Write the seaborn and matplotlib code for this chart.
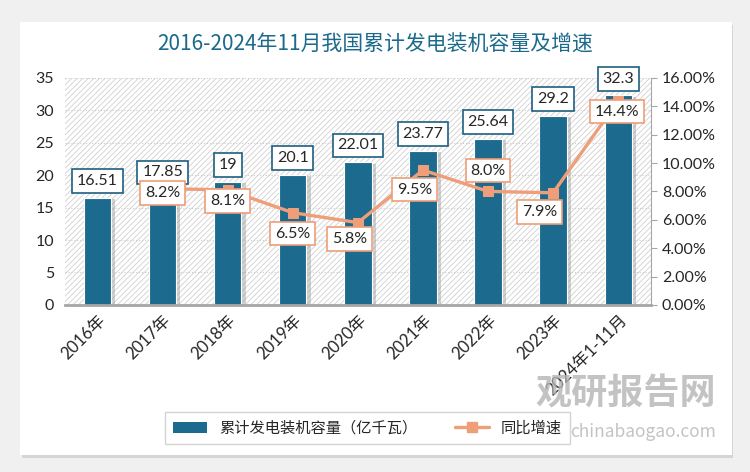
import pandas as pd
import numpy as np
import matplotlib
matplotlib.use('Agg')
import matplotlib.pyplot as plt
import matplotlib.patheffects as pe
from matplotlib.patches import Rectangle, Patch
from matplotlib.lines import Line2D
import seaborn as sns

# data
years = ['2016年', '2017年', '2018年', '2019年', '2020年', '2021年', '2022年', '2023年', '2024年1-11月']
capacity = [16.51, 17.85, 19, 20.1, 22.01, 23.77, 25.64, 29.2, 32.3]
growth_years = ['2017年', '2018年', '2019年', '2020年', '2021年', '2022年', '2023年', '2024年1-11月']
growth = [8.2, 8.1, 6.5, 5.8, 9.5, 8.0, 7.9, 14.4]

# label offsets (points) for the growth boxes
growth_offsets = [(0, -3), (0, -8), (0, -15), (-6, -12), (-6, -14), (0, 15), (-10, -14), (-1, -8)]

bar_color = '#1C6B8E'
line_color = '#EE9E79'
cjk = ['Noto Sans CJK SC', 'DejaVu Sans']
sans = ['Lato', 'Noto Sans CJK SC', 'DejaVu Sans']

sns.set_style('white')
plt.rcParams['font.family'] = cjk
plt.rcParams['hatch.linewidth'] = 0.6

fig = plt.figure(figsize=(7.5, 4.72), dpi=100)
fig.patch.set_facecolor('#F0F0F0')

# white card with soft shadow
card = Rectangle((0.027, 0.036), 0.949, 0.917, transform=fig.transFigure,
                 facecolor='white', edgecolor='none', zorder=-10,
                 path_effects=[pe.SimplePatchShadow(offset=(1, -2), shadow_rgbFace='#BBBBBB', alpha=0.5), pe.Normal()])
fig.add_artist(card)

ax = fig.add_axes([0.0867, 0.354, 0.781, 0.481])
ax.set_facecolor('none')

# hatched plot background
bg = Rectangle((0, 0), 1, 1, transform=ax.transAxes, facecolor='white',
               edgecolor='#D0D0D0', hatch='//////', linewidth=0, zorder=0)
ax.add_patch(bg)

df = pd.DataFrame({'year': years, 'capacity': capacity})
sns.barplot(data=df, x='year', y='capacity', color=bar_color, width=0.42,
            saturation=1, ax=ax, zorder=2, edgecolor='white', linewidth=0.8)
for p in ax.patches:
    if p is bg:
        continue
    p.set_path_effects([pe.SimplePatchShadow(offset=(3, -1), shadow_rgbFace='#999999', alpha=0.45), pe.Normal()])

ax.set_xlim(-0.5, len(years) - 0.5)
ax.set_ylim(0, 35)
ax.set_yticks(range(0, 36, 5))
ax.set_xlabel('')
ax.set_ylabel('')
ax.yaxis.grid(True, linestyle=':', color='#CCCCCC', linewidth=0.8)
ax.set_axisbelow(True)
for s in ['left', 'top', 'right']:
    ax.spines[s].set_visible(False)
ax.spines['bottom'].set_color('#A6A6A6')
ax.spines['bottom'].set_linewidth(2)
ax.tick_params(axis='y', length=0, labelsize=11.5, pad=8)
ax.tick_params(axis='x', length=0, pad=5)
ax.set_xticks(range(len(years)))
ax.set_xticklabels(years, rotation=45, ha='right', rotation_mode='anchor', fontsize=12,
                   family=sans)
for t in ax.get_yticklabels():
    t.set_family(sans)

for i, v in enumerate(capacity):
    ax.annotate(f'{v:g}', (i, v), xytext=(0, 12), textcoords='offset points',
                ha='center', va='center', fontsize=11.5, family=sans, zorder=5,
                bbox=dict(boxstyle='square,pad=0.3', facecolor='white', edgecolor='#1F5F80', linewidth=1.2))

# growth rate on the right axis
ax2 = ax.twinx()
ax2.set_ylim(0, 16)
ax2.set_yticks(range(0, 17, 2))
ax2.set_yticklabels([f'{v:.2f}%' for v in range(0, 17, 2)], fontsize=11.5, family=sans)
gdf = pd.DataFrame({'pos': [years.index(y) for y in growth_years], 'growth': growth})
sns.lineplot(data=gdf, x='pos', y='growth', ax=ax2, color=line_color, linewidth=2.4,
             marker='s', markersize=7, markeredgecolor=line_color, zorder=3)
ax2.set_xlim(-0.5, len(years) - 0.5)
ax2.set_xlabel('')
ax2.set_ylabel('')
for s in ['left', 'top', 'bottom']:
    ax2.spines[s].set_visible(False)
ax2.spines['right'].set_color('#A6A6A6')
ax2.tick_params(axis='y', direction='out', length=4, color='#A6A6A6', pad=4)

for (x, v), off in zip(zip(gdf['pos'], growth), growth_offsets):
    ax2.annotate(f'{v:.1f}%', (x, v), xytext=off, textcoords='offset points',
                 ha='center', va='center', fontsize=11.5, family=sans, zorder=6,
                 bbox=dict(boxstyle='square,pad=0.3', facecolor='white', edgecolor=line_color, linewidth=1.2))

fig.text(0.5, 0.905, '2016-2024年11月我国累计发电装机容量及增速', ha='center', va='center',
         fontsize=15, color='#1B6A8C', family=cjk)

# watermark
fig.text(0.955, 0.165, '观研报告网', ha='right', va='center', fontsize=26, fontweight='bold',
         color='#B5B5B5', alpha=0.8)
fig.text(0.955, 0.085, 'chinabaogao.com', ha='right', va='center', fontsize=12.5,
         color='#B5B5B5', alpha=0.8)

handles = [Patch(facecolor=bar_color, edgecolor='none'),
           Line2D([0], [0], color=line_color, linewidth=2.4, marker='s', markersize=7)]
leg = fig.legend(handles, ['累计发电装机容量（亿千瓦）', '同比增速'], loc='center',
                 bbox_to_anchor=(0.49, 0.093), ncol=2, fontsize=11, frameon=True,
                 fancybox=False, edgecolor='#C8C8C8', handlelength=2.2, columnspacing=2.5,
                 borderpad=0.5)
leg.get_frame().set_linewidth(1)

fig.savefig('out.png', dpi=100)
